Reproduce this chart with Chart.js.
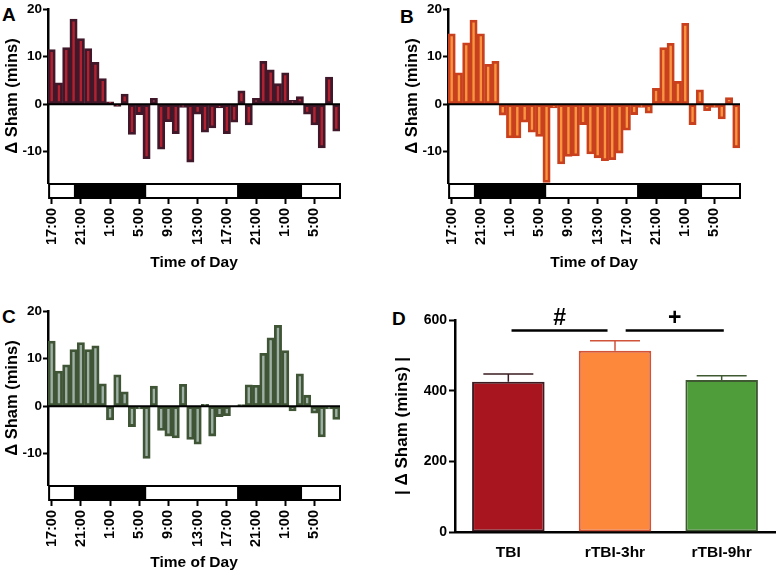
<!DOCTYPE html>
<html>
<head>
<meta charset="utf-8">
<script src="https://cdn.jsdelivr.net/npm/chart.js@4.4.0/dist/chart.umd.min.js"></script>
<style>
  body { margin: 0; width: 777px; height: 572px; overflow: hidden; background: #fff; position: relative; font-family: "Liberation Sans", Arial, sans-serif; }
  canvas { position: absolute; }
  .panel { position: absolute; font-weight: bold; font-size: 19px; line-height: 19px; color: #000; }
</style>
</head>
<body>
<div class="panel" style="left:2px;top:5px">A</div>
<div class="panel" style="left:400px;top:7px">B</div>
<div class="panel" style="left:2px;top:307px">C</div>
<div class="panel" style="left:392px;top:309px">D</div>

<canvas id="chartA" width="390" height="272" style="left:0;top:0"></canvas>
<canvas id="chartB" width="377" height="272" style="left:400px;top:0"></canvas>
<canvas id="chartC" width="390" height="270" style="left:0;top:302px"></canvas>
<canvas id="chartD" width="389" height="272" style="left:388px;top:300px"></canvas>

<script>
// hourly bins starting at 17:00
const hourLabels = [
  '17:00', '18:00', '19:00', '20:00', '21:00', '22:00', '23:00',
  '0:00', '1:00', '2:00', '3:00', '4:00', '5:00', '6:00', '7:00', '8:00', '9:00', '10:00', '11:00', '12:00',
  '13:00', '14:00', '15:00', '16:00', '17:00', '18:00', '19:00', '20:00', '21:00', '22:00', '23:00',
  '0:00', '1:00', '2:00', '3:00', '4:00', '5:00', '6:00', '7:00', '8:00'
];

const tbiDiff = [11.5, 4.5, 11.9, 17.9, 13.8, 11.7, 8.8, 5.4, 0.5, -0.5, 2.1, -6.4, -2.2, -11.5, 1.2, -9.5, -3.7, -6.2, -0.7, -12.2,
  -2.1, -5.9, -5.0, -0.8, -6.2, -3.8, 2.8, -4.4, 1.2, 9.0, 7.2, 4.3, 6.6, 0.8, 1.6, -2.1, -4.4, -9.2, 5.7, -5.7];
const rtbi3Diff = [14.8, 6.6, 12.9, 17.7, 14.8, 8.4, 9.0, -2.3, -7.1, -7.1, -3.8, -5.9, -6.8, -16.5, -0.8, -12.6, -11.0, -10.9, -4.3, -10.5,
  -11.3, -11.9, -11.7, -10.3, -5.5, -2.2, -0.7, -1.9, 3.3, 11.9, 12.8, 4.8, 17.0, -4.3, 3.0, -1.4, -0.7, -3.1, 1.4, -9.2];
const rtbi9Diff = [13.7, 7.4, 8.7, 11.9, 13.4, 11.9, 12.7, 4.7, -2.9, 6.6, 3.0, -4.3, -0.6, -11.0, 4.2, -5.1, -6.3, -6.7, 4.6, -7.0,
  -8.0, 0.4, -6.3, -2.2, -2.0, -0.1, 0.3, 4.5, 4.4, 11.1, 14.4, 17.0, 11.7, -1.0, 6.8, 2.3, -1.5, -6.5, -0.6, -2.8];

// light/dark bar, in bin index units
const stripRange = [-0.35, 39.5];
const darkPeriods = [[3.05, 12.95], [25.4, 34.3]];

const groups = ['TBI', 'rTBI-3hr', 'rTBI-9hr'];
const groupMeans = [425, 513, 430];
const groupSem = [22, 28, 12];
const sigBars = [[0.03, 0.93, '#'], [1.1, 2.02, '+']];
const sigLevel = 570;

const boldFont = (size) => ({ family: '"Liberation Sans", Arial, sans-serif', weight: 'bold', size: size });

const stripPlugin = {
  id: 'strip',
  afterDatasetsDraw(chart) {
    const { ctx, chartArea, scales: { y } } = chart;
    ctx.save();
    // zero line
    ctx.strokeStyle = '#000';
    ctx.lineWidth = 2;
    const y0 = y.getPixelForValue(0);
    ctx.beginPath();
    ctx.moveTo(chartArea.left, y0);
    ctx.lineTo(chartArea.right, y0);
    ctx.stroke();
    ctx.restore();
  },
  afterDraw(chart) {
    const { ctx, chartArea, scales: { x } } = chart;
    const top = chartArea.bottom;
    const h = 15;
    const left = x.getPixelForValue(stripRange[0]);
    const right = x.getPixelForValue(stripRange[1]);
    ctx.save();
    ctx.fillStyle = '#fff';
    ctx.fillRect(left, top, right - left, h);
    ctx.fillStyle = '#000';
    darkPeriods.forEach(([a, b]) => {
      const xa = x.getPixelForValue(a);
      const xb = x.getPixelForValue(b);
      ctx.fillRect(xa, top, xb - xa, h);
    });
    ctx.strokeStyle = '#000';
    ctx.lineWidth = 2;
    ctx.strokeRect(left, top + 1, right - left, h - 1);
    ctx.restore();
  }
};

function makeTimeChart(id, values, fill, border, rightPad) {
  const canvas = document.getElementById(id);
  const xHeight = canvas.height - 183;
  return new Chart(canvas, {
    type: 'bar',
    data: {
      labels: hourLabels,
      datasets: [{
        data: values,
        backgroundColor: fill,
        borderColor: border,
        borderWidth: 2.8,
        borderSkipped: false,
        barPercentage: 1,
        categoryPercentage: 1
      }]
    },
    options: {
      responsive: false,
      animation: false,
      layout: { padding: { left: 0, top: 7, right: rightPad, bottom: 0 } },
      plugins: { legend: { display: false }, tooltip: { enabled: false } },
      scales: {
        x: {
          offset: true,
          afterFit: (s) => { s.height = xHeight; },
          grid: {
            offset: false,
            drawOnChartArea: false,
            tickLength: 21,
            tickWidth: 2,
            tickColor: (c) => (c.index % 4 === 0 ? '#000' : 'rgba(0,0,0,0)')
          },
          border: { display: false },
          ticks: {
            autoSkip: false,
            minRotation: 90,
            maxRotation: 90,
            padding: 4,
            color: '#000',
            font: boldFont(14.5),
            callback: (v, i) => (i % 4 === 0 ? hourLabels[i] : '')
          },
          title: { display: true, text: 'Time of Day', color: '#000', font: boldFont(15.5), padding: { top: 2, bottom: 0 } }
        },
        y: {
          min: -16.6,
          max: 20,
          afterFit: (s) => { s.width = 48; },
          grid: { drawOnChartArea: false, tickLength: 5, tickWidth: 2, tickColor: '#000' },
          border: { display: true, color: '#000', width: 2.5 },
          ticks: { stepSize: 10, includeBounds: false, padding: 1, color: '#000', font: boldFont(13.5) },
          title: { display: true, text: '\u0394 Sham (mins)', color: '#000', font: boldFont(16.5), padding: { top: 3, bottom: 0 } }
        }
      }
    },
    plugins: [stripPlugin]
  });
}

makeTimeChart('chartA', tbiDiff, '#b3202f', '#40182a', 50);
makeTimeChart('chartB', rtbi3Diff, '#f9953f', '#c8401e', 37);
makeTimeChart('chartC', rtbi9Diff, '#9fb1a6', '#3f5535', 50);

const dFills = ['#a8151e', '#fd873b', '#4f9c3a'];
const dBorders = ['#3a1c22', '#d0533a', '#3f5a32'];

const errorPlugin = {
  id: 'errors',
  afterDatasetsDraw(chart) {
    const { ctx, scales: { x, y } } = chart;
    ctx.save();
    ctx.lineWidth = 1.5;
    groupMeans.forEach((m, i) => {
      const cx = x.getPixelForValue(i);
      const yb = y.getPixelForValue(m);
      const yt = y.getPixelForValue(m + groupSem[i]);
      ctx.strokeStyle = dBorders[i];
      ctx.beginPath();
      ctx.moveTo(cx, yb);
      ctx.lineTo(cx, yt);
      ctx.moveTo(cx - 25, yt);
      ctx.lineTo(cx + 25, yt);
      ctx.stroke();
    });
    // significance bars
    ctx.strokeStyle = '#000';
    ctx.fillStyle = '#000';
    ctx.lineWidth = 2.5;
    ctx.font = 'bold 23px "Liberation Sans", Arial, sans-serif';
    ctx.textAlign = 'center';
    ctx.textBaseline = 'middle';
    const ys = y.getPixelForValue(sigLevel);
    sigBars.forEach(([a, b, mark]) => {
      const xa = x.getPixelForValue(a);
      const xb = x.getPixelForValue(b);
      ctx.beginPath();
      ctx.moveTo(xa, ys);
      ctx.lineTo(xb, ys);
      ctx.stroke();
      ctx.fillText(mark, (xa + xb) / 2, ys - 12);
    });
    ctx.restore();
  }
};

new Chart(document.getElementById('chartD'), {
  type: 'bar',
  data: {
    labels: groups,
    datasets: [{
      data: groupMeans,
      backgroundColor: dFills,
      borderColor: dBorders,
      borderWidth: 2,
      borderSkipped: false,
      barPercentage: 0.68,
      categoryPercentage: 1
    }]
  },
  options: {
    responsive: false,
    animation: false,
    layout: { padding: { left: 0, top: 20, right: 2, bottom: 0 } },
    plugins: { legend: { display: false }, tooltip: { enabled: false } },
    scales: {
      x: {
        afterFit: (s) => { s.height = 40; },
        grid: { drawOnChartArea: false, drawTicks: false },
        border: { display: true, color: '#000', width: 2.5 },
        ticks: { padding: 11, color: '#000', font: boldFont(15.5) }
      },
      y: {
        min: 0,
        max: 600,
        afterFit: (s) => { s.width = 67; },
        grid: { drawOnChartArea: false, tickLength: 6, tickWidth: 2, tickColor: '#000' },
        border: { display: true, color: '#000', width: 2.5 },
        ticks: { stepSize: 200, padding: 2, color: '#000', font: boldFont(14) },
        title: { display: true, text: '| \u0394 Sham (mins) |', color: '#000', font: boldFont(17), padding: { top: 4, bottom: 0 } }
      }
    }
  },
  plugins: [errorPlugin]
});
</script>
</body>
</html>
